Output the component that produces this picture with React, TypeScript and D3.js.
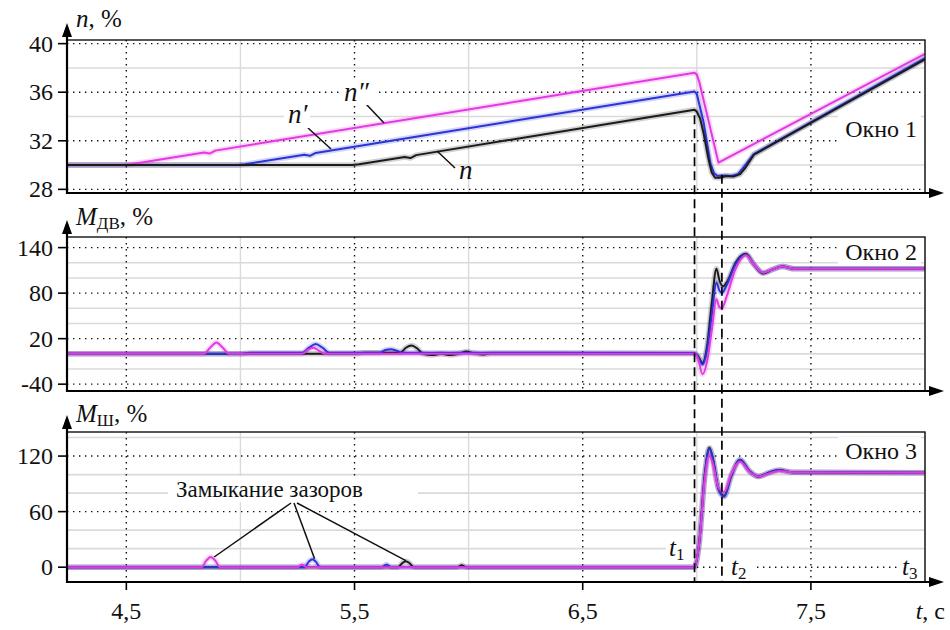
import React from "react";
import * as d3 from "d3";

type Pt = [number, number];

// ---- time axis ----
const timeRange: [number, number] = [4.24, 8.0];
const timeMajor = [4.5, 5.5, 6.5, 7.5];
const timeMajorLabels = ["4,5", "5,5", "6,5", "7,5"];
const timeMinor = [5.0, 6.0, 7.0, 8.0];
const switchTimes = [6.99, 7.11];

// ---- window 1: speed, % ----
const speedTicks = [28, 32, 36, 40];
const speedMinor = [30, 34, 38];
const speedN: Pt[] = [
  [4.24, 30], [5.49, 30], [5.52, 30.07], [5.72, 30.67], [5.745, 30.58], [5.77, 30.82], [6.97, 34.49],
  [6.99, 34.55], [7.0, 34.4], [7.015, 33.8], [7.03, 32.6], [7.05, 30.6], [7.065, 29.4], [7.08, 28.95],
  [7.1, 28.95], [7.13, 29.1], [7.16, 29.05], [7.19, 29.25], [7.21, 29.7], [7.25, 30.85], [8.0, 38.7],
];
const speedN1: Pt[] = [
  [4.24, 30], [4.99, 30], [5.02, 30.07], [5.28, 30.85], [5.305, 30.76], [5.33, 31.0], [6.97, 35.99],
  [6.99, 36.05], [7.0, 35.85], [7.03, 33.5], [7.06, 30.1], [7.075, 29.35], [7.09, 29.12], [7.12, 29.15],
  [7.15, 29.1], [7.18, 29.25], [7.2, 29.7], [7.25, 30.9], [8.0, 38.8],
];
const speedN2: Pt[] = [
  [4.24, 30], [4.49, 30], [4.52, 30.07], [4.84, 31.04], [4.865, 30.95], [4.89, 31.19], [6.97, 37.54],
  [6.99, 37.6], [7.0, 37.45], [7.01, 36.9], [7.095, 30.2], [8.0, 39.15],
];

// ---- window 2: motor torque, % ----
const motorTicks = [-40, 20, 80, 140];
const motorMinor = [-20, 0, 40, 60, 100, 120];
const motorN: Pt[] = [
  [4.24, 0], [5.5, 0], [5.54, 1.5], [5.7, 1.5], [5.725, 8], [5.75, 11], [5.775, 7], [5.8, 0],
  [5.84, -1.5], [5.88, 0], [5.92, -1.5], [5.96, 0.5], [5.99, 3], [6.02, 1], [6.06, -1], [6.1, 0.5],
  [6.99, 0.5], [7.005, -3], [7.025, -12], [7.045, 10], [7.065, 65], [7.086, 112], [7.1, 96],
  [7.115, 89], [7.135, 96], [7.17, 120], [7.215, 132], [7.25, 118], [7.29, 106], [7.33, 111],
  [7.375, 115], [7.43, 112], [8.0, 112],
];
const motorN1: Pt[] = [
  [4.24, 0], [5.0, 0], [5.04, 1.5], [5.27, 1.5], [5.3, 8], [5.33, 13], [5.36, 8], [5.39, 1.5],
  [5.61, 1.5], [5.635, 5], [5.66, 6], [5.685, 4], [5.71, 1.5], [6.99, 1.2], [7.005, -4],
  [7.025, -14], [7.045, 5], [7.065, 50], [7.086, 94], [7.098, 84], [7.11, 80], [7.13, 90],
  [7.17, 118], [7.215, 131], [7.25, 118], [7.29, 107], [7.33, 111], [7.375, 115], [7.43, 112],
  [8.0, 112],
];
const motorN2: Pt[] = [
  [4.24, 0], [4.84, 0], [4.87, 9], [4.895, 15], [4.92, 9], [4.95, 0], [5.27, 0], [5.3, 6],
  [5.32, 8], [5.345, 4], [5.37, 0], [6.99, 0], [7.005, -6], [7.025, -27], [7.045, -10],
  [7.065, 30], [7.086, 72], [7.098, 62], [7.11, 60], [7.13, 75], [7.17, 112], [7.215, 130],
  [7.25, 118], [7.29, 107], [7.33, 111], [7.375, 115], [7.43, 112], [8.0, 112],
];

// ---- window 3: shaft torque, % ----
const shaftTicks = [0, 60, 120];
const shaftMinor = [20, 40, 80, 100, 140];
const shaftN: Pt[] = [
  [4.24, 0], [5.69, 0], [5.71, 4.5], [5.725, 6.5], [5.74, 4.5], [5.76, 0], [5.95, 0], [5.97, 2],
  [5.99, 0], [6.99, 0], [7.01, 25], [7.035, 100], [7.055, 129], [7.07, 118], [7.095, 85],
  [7.12, 77], [7.15, 98], [7.19, 116], [7.23, 104], [7.27, 98], [7.315, 102], [7.36, 105],
  [7.42, 102.5], [8.0, 102],
];
const shaftN1: Pt[] = [
  [4.24, 0], [5.28, 0], [5.3, 6], [5.315, 8.6], [5.33, 6], [5.35, 0], [5.62, 0], [5.64, 3],
  [5.66, 0], [6.99, 0], [7.01, 25], [7.035, 100], [7.055, 128], [7.07, 117], [7.095, 84],
  [7.12, 76], [7.15, 98], [7.19, 116], [7.23, 104], [7.27, 98], [7.315, 102], [7.36, 105],
  [7.42, 102.5], [8.0, 102],
];
const shaftN2: Pt[] = [
  [4.24, 0], [4.83, 0], [4.85, 7], [4.87, 11], [4.89, 7], [4.91, 0], [5.25, 0], [5.27, 3],
  [5.29, 0], [6.99, 0], [7.01, 25], [7.035, 95], [7.055, 121], [7.07, 112], [7.095, 86],
  [7.12, 81], [7.15, 100], [7.19, 114], [7.23, 103], [7.27, 98], [7.315, 101], [7.36, 104],
  [7.42, 102.5], [8.0, 102],
];

// gap-closure points the callout refers to (time, shaft torque)
const gapClosures: Pt[] = [[4.885, 11], [5.325, 9], [5.725, 7]];

const COLORS = { n: "#1b1b1b", n1: "#2c34d6", n2: "#e23ae2" };
const FONT_NAME = "Liberation Serif";
const FONT_CSS = `"${FONT_NAME}", "Times New Roman", Tinos, serif`;

const X0 = 67;
const X1 = 925;
const x = d3.scaleLinear().domain(timeRange).range([X0, X1]);

interface PanelCfg {
  id: string;
  top: number;
  bottom: number;
  domain: [number, number];
  ticks: number[];
  minor: number[];
  smooth: boolean;
  series: { data: Pt[]; color: string }[];
  windowLabel: string;
  windowBaseline: number;
}

const panels: PanelCfg[] = [
  {
    id: "p1", top: 40, bottom: 193, domain: [27.7, 40.3], ticks: speedTicks, minor: speedMinor, smooth: false,
    series: [
      { data: speedN2, color: COLORS.n2 },
      { data: speedN1, color: COLORS.n1 },
      { data: speedN, color: COLORS.n },
    ],
    windowLabel: "Окно 1", windowBaseline: 137,
  },
  {
    id: "p2", top: 237, bottom: 391, domain: [-49, 154], ticks: motorTicks, minor: motorMinor, smooth: true,
    series: [
      { data: motorN, color: COLORS.n },
      { data: motorN1, color: COLORS.n1 },
      { data: motorN2, color: COLORS.n2 },
    ],
    windowLabel: "Окно 2", windowBaseline: 260,
  },
  {
    id: "p3", top: 432, bottom: 582, domain: [-16, 146], ticks: shaftTicks, minor: shaftMinor, smooth: true,
    series: [
      { data: shaftN, color: COLORS.n },
      { data: shaftN1, color: COLORS.n1 },
      { data: shaftN2, color: COLORS.n2 },
    ],
    windowLabel: "Окно 3", windowBaseline: 459,
  },
];

function yScale(p: PanelCfg) {
  return d3.scaleLinear().domain(p.domain).range([p.bottom, p.top]);
}

// all text shares the serif face
function T(props: any) {
  const { children, ...rest } = props;
  return (
    <text fill="#111" fontFamily={FONT_NAME} style={{ fontFamily: FONT_CSS }} {...rest}>
      {children}
    </text>
  );
}

function Panel({ p }: { p: PanelCfg }) {
  const y = yScale(p);
  const line = d3
    .line<Pt>()
    .x((d) => x(d[0]))
    .y((d) => y(d[1]))
    .curve(p.smooth ? d3.curveMonotoneX : d3.curveLinear);
  return (
    <g>
      <defs>
        <clipPath id={`clip-${p.id}`}>
          <rect x={X0} y={p.top} width={X1 - X0} height={p.bottom - p.top} />
        </clipPath>
      </defs>
      <rect x={X0} y={p.top} width={X1 - X0} height={p.bottom - p.top} fill="#fff" />
      {/* minor grid */}
      {p.minor.map((v) => (
        <line key={`mh${v}`} x1={X0} x2={X1} y1={y(v)} y2={y(v)} stroke="#dadada" strokeWidth={1.6} />
      ))}
      {timeMinor.map((t) => (
        <line key={`mv${t}`} x1={x(t)} x2={x(t)} y1={p.top} y2={p.bottom} stroke="#dadada" strokeWidth={1.4} />
      ))}
      {/* major dotted grid */}
      {p.ticks.map((v) => (
        <line key={`gh${v}`} x1={X0} x2={X1} y1={y(v)} y2={y(v)} stroke="#111" strokeWidth={1.4} strokeDasharray="1.4,4.6" />
      ))}
      {timeMajor.map((t) => (
        <line key={`gv${t}`} x1={x(t)} x2={x(t)} y1={p.top} y2={p.bottom} stroke="#111" strokeWidth={1.4} strokeDasharray="1.4,4.6" />
      ))}
      {/* curves */}
      <g clipPath={`url(#clip-${p.id})`}>
        {p.series.map((s, i) => (
          <path key={`h${i}`} d={line(s.data) || ""} fill="none" stroke={s.color} strokeOpacity={0.2} strokeWidth={5.5} strokeLinejoin="round" />
        ))}
        {p.series.map((s, i) => (
          <path key={`c${i}`} d={line(s.data) || ""} fill="none" stroke={s.color} strokeWidth={2} strokeLinejoin="round" />
        ))}
      </g>
      {/* frame */}
      <rect x={X0} y={p.top} width={X1 - X0} height={p.bottom - p.top} fill="none" stroke="#111" strokeWidth={1.4} />
      {/* y axis with arrow */}
      <line x1={X0} x2={X0} y1={p.bottom + 1} y2={p.top - 6} stroke="#000" strokeWidth={2.2} />
      <polygon points={`${X0},${p.top - 17} ${X0 - 5},${p.top - 3} ${X0 + 5},${p.top - 3}`} fill="#000" />
      {/* x axis with arrow */}
      <line x1={X0 - 1} x2={X1 + 8} y1={p.bottom} y2={p.bottom} stroke="#000" strokeWidth={2.2} />
      <polygon points={`${X1 + 19},${p.bottom} ${X1 + 4},${p.bottom - 5} ${X1 + 4},${p.bottom + 5}`} fill="#000" />
      {/* y ticks */}
      {p.ticks.map((v) => (
        <g key={`t${v}`}>
          <line x1={X0 - 9} x2={X0} y1={y(v)} y2={y(v)} stroke="#000" strokeWidth={1.6} />
          <T x={X0 - 14} y={y(v) + 8} textAnchor="end" fontSize={24}>
            {String(v)}
          </T>
        </g>
      ))}
      {/* window name */}
      <rect x={838} y={p.windowBaseline - 22} width={83} height={27} fill="#fff" />
      <T x={917} y={p.windowBaseline} textAnchor="end" fontSize={24}>
        {p.windowLabel}
      </T>
    </g>
  );
}

export default function App() {
  const y1 = yScale(panels[0]);
  const y3 = yScale(panels[2]);
  const bottomY = panels[2].bottom;
  const calloutFrom: Pt = [291, 503];
  return (
    <div style={{ position: "absolute", left: 0, top: 0, width: 950, height: 630, fontFamily: FONT_CSS }}>
      <svg width={950} height={630} style={{ display: "block" }} fontFamily={FONT_NAME}>
        <style>{`text, tspan { font-family: ${FONT_CSS} !important; }`}</style>
        <rect width={950} height={630} fill="#fff" />
        {panels.map((p) => (
          <Panel key={p.id} p={p} />
        ))}

        {/* axis titles */}
        <T x={76} y={27} fontSize={25}>
          <tspan fontStyle="italic">n</tspan>, %
        </T>
        <T x={76} y={225} fontSize={25}>
          <tspan fontStyle="italic">M</tspan>
          <tspan fontSize={17} dy={4}>ДВ</tspan>
          <tspan dy={-4}>, %</tspan>
        </T>
        <T x={76} y={422} fontSize={25}>
          <tspan fontStyle="italic">M</tspan>
          <tspan fontSize={17} dy={4}>Ш</tspan>
          <tspan dy={-4}>, %</tspan>
        </T>

        {/* switching instants */}
        {switchTimes.map((t, i) => (
          <line
            key={`sw${i}`}
            x1={x(t)}
            x2={x(t)}
            y1={i === 0 ? y1(34.1) : y1(29.7) + 6}
            y2={bottomY}
            stroke="#000"
            strokeWidth={1.7}
            strokeDasharray="9,5"
          />
        ))}

        {/* time ticks */}
        {timeMajor.map((t, i) => (
          <g key={`xt${t}`}>
            <line x1={x(t)} x2={x(t)} y1={bottomY} y2={bottomY + 8} stroke="#000" strokeWidth={1.6} />
            <T x={x(t)} y={619} textAnchor="middle" fontSize={24}>
              {timeMajorLabels[i]}
            </T>
          </g>
        ))}
        <T x={945} y={619} textAnchor="end" fontSize={24}>
          <tspan fontStyle="italic">t</tspan>, с
        </T>

        {/* t1, t2, t3 */}
        <rect x={666} y={537} width={27} height={25} fill="#fff" />
        <T x={669} y={556} fontSize={25}>
          <tspan fontStyle="italic">t</tspan>
          <tspan fontSize={17} dy={4}>1</tspan>
        </T>
        <rect x={727} y={556} width={27} height={25} fill="#fff" />
        <T x={731} y={575} fontSize={25}>
          <tspan fontStyle="italic">t</tspan>
          <tspan fontSize={17} dy={4}>2</tspan>
        </T>
        <rect x={898} y={556} width={26} height={25} fill="#fff" />
        <T x={902} y={575} fontSize={25}>
          <tspan fontStyle="italic">t</tspan>
          <tspan fontSize={17} dy={4}>3</tspan>
        </T>

        {/* curve labels in window 1 */}
        <line x1={308} y1={128} x2={331} y2={149} stroke="#111" strokeWidth={1.5} />
        <rect x={284} y={104} width={26} height={24} fill="#fff" />
        <T x={288} y={123} fontSize={27} fontStyle="italic">n′</T>
        <line x1={366} y1={104} x2={384} y2={123} stroke="#111" strokeWidth={1.5} />
        <rect x={340} y={80} width={36} height={25} fill="#fff" />
        <T x={344} y={101} fontSize={27} fontStyle="italic">n″</T>
        <line x1={437} y1={151} x2={455} y2={168} stroke="#111" strokeWidth={1.5} />
        <T x={459} y={179} fontSize={27} fontStyle="italic">n</T>

        {/* gap-closure callout */}
        <rect x={168} y={476} width={250} height={26} fill="#fff" />
        <T x={176} y={497} fontSize={23}>Замыкание зазоров</T>
        {gapClosures.map((d, i) => (
          <line
            key={`gc${i}`}
            x1={calloutFrom[0] + i * 3}
            y1={calloutFrom[1]}
            x2={x(d[0])}
            y2={y3(d[1])}
            stroke="#111"
            strokeWidth={1.5}
          />
        ))}
      </svg>
    </div>
  );
}
